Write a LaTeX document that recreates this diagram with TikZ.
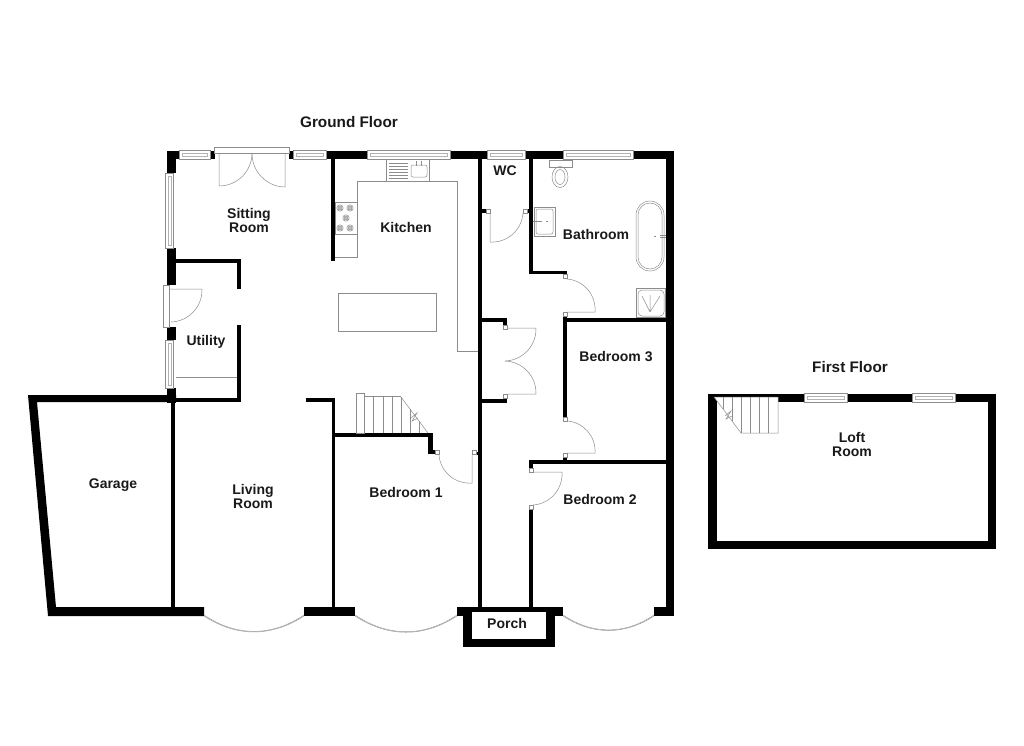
\documentclass[tikz,border=0pt]{standalone}
\usepackage{fontspec}
\setmainfont{Liberation Sans}

\begin{document}
\begin{tikzpicture}[x=1pt,y=-1pt,line cap=butt,line join=miter]
\tikzset{
    wall/.style=    {fill=black},
    fixture/.style= {draw=black!45,line width=0.5pt},
    glazing/.style= {draw=black!45,line width=0.5pt,fill=white},
    bayline/.style= {draw=black!40,line width=0.5pt},
    room/.style=    {font=\bfseries\fontsize{14}{14}\selectfont,align=center,text=black!90},
    floorname/.style= {font=\bfseries\fontsize{15.3}{16}\selectfont,text=black!90}
}
\useasboundingbox (0,0) rectangle (1024,745);

%% Ground floor, outer walls
\fill [wall] (167,151) rectangle (179,159);
\fill [wall] (167,151) rectangle (176,173);
\fill [wall] (210,151) rectangle (215,159);
\fill [wall] (289,151) rectangle (293,159);
\fill [wall] (326,151) rectangle (367,159);
\fill [wall] (450,151) rectangle (487,159);
\fill [wall] (525,151) rectangle (563,159);
\fill [wall] (633,151) rectangle (674,159);
\fill [wall] (666,151) rectangle (674,616);
\fill [wall] (167,248) rectangle (176,285);
\fill [wall] (167,327) rectangle (176,340);
\fill [wall] (167,388) rectangle (176,403);
\fill [wall] (28,395) -- (176,395) -- (176,402) -- (37,402) -- (56,607) -- (204,607) -- (204,616) -- (48,616) -- cycle;
\fill [wall] (304,607) rectangle (355,616);
\fill [wall] (654,607) rectangle (674,616);

%% Porch
\fill [wall] (457,607) rectangle (563,612);
\fill [wall] (457,607) rectangle (472,616);
\fill [wall] (546,607) rectangle (563,616);
\fill [wall] (463,607) rectangle (472,647);
\fill [wall] (546,607) rectangle (555,647);
\fill [wall] (463,639) rectangle (555,647);

%% Inner walls
\fill [wall] (171,402) rectangle (175,607);
\fill [wall] (176,259) rectangle (241,263);
\fill [wall] (237,259) rectangle (241,289);
\fill [wall] (237,325) rectangle (241,402);
\fill [wall] (176,398) rectangle (241,402);
\fill [wall] (331,159) rectangle (335,261);
\fill [wall] (306,398) rectangle (335,402);
\fill [wall] (332,398) rectangle (335,607);
\fill [wall] (335,433) rectangle (433,437);
\fill [wall] (428,433) rectangle (433,454);
\fill [wall] (428,450) rectangle (435,454);
\fill [wall] (478,151) rectangle (482,607);
\fill [wall] (476,452) rectangle (478,455);
\fill [wall] (482,209) rectangle (486,213);
\fill [wall] (527,209) rectangle (529,213);
\fill [wall] (529,159) rectangle (533,274);
\fill [wall] (529,271) rectangle (567,274);
\fill [wall] (563,317) rectangle (567,417);
\fill [wall] (563,318) rectangle (666,322);
\fill [wall] (482,318) rectangle (507,322);
\fill [wall] (503,318) rectangle (507,325);
\fill [wall] (482,399) rectangle (507,403);
\fill [wall] (529,460) rectangle (666,464);
\fill [wall] (529,460) rectangle (533,468);
\fill [wall] (563,457) rectangle (567,460);
\fill [wall] (529,509) rectangle (533,607);

%% Loft walls
\fill [wall] (708,394) rectangle (996,402);
\fill [wall] (708,394) rectangle (717,549);
\fill [wall] (708,541) rectangle (996,549);
\fill [wall] (988,394) rectangle (996,549);

%% Windows along the top
\foreach \xa/\xb in {179/210,293/326,367/450,487/525,563/633}{
    \draw [glazing] (\xa,150) rectangle (\xb,159);
    \draw [glazing,draw=black!30] (\xa+3,153) rectangle (\xb-3,156);
}
\foreach \xa/\xb in {804/847,912/955}{
    \draw [glazing] (\xa,393) rectangle (\xb,402);
    \draw [glazing,draw=black!30] (\xa+3,396) rectangle (\xb-3,399);
}
%% Windows on the left side
\foreach \ya/\yb in {173/248,340/388}{
    \draw [glazing] (165,\ya) rectangle (173,\yb);
    \draw [glazing,draw=black!30] (168,\ya+3) rectangle (171,\yb-3);
}

%% Bay windows
\foreach \xa/\xb in {204/304,355/457,563/654}{
    \draw [bayline] (\xa,615) to[bend right=34] (\xb,615);
    \draw [bayline] (\xa,616) to[bend right=33] (\xb,616);
}

%% Doors
\draw [glazing] (214,147) rectangle (289,153);
\draw [fixture] (219,153) -- (219,186) to[bend right=45] (252,153);
\draw [fixture] (285,153) -- (285,187) to[bend left=45] (252,153);
\draw [glazing] (163,285) rectangle (169,327);
\draw [fixture] (169,289) -- (202,289) to[bend left=45] (171,322);
\draw [fixture] (490,213) -- (490,242) to[bend right=45] (523,213);
\draw [fixture] (567,312) -- (595,312) to[bend right=45] (567,279);
\draw [fixture] (507,328) -- (536,328) to[bend left=45] (505,361);
\draw [fixture] (505,361) to[bend left=45] (536,394) -- (507,394);
\draw [fixture] (567,453) -- (595,453) to[bend right=45] (567,421);
\draw [fixture] (533,472) -- (562,472) to[bend left=45] (533,505);
\draw [fixture] (472,455) -- (472,483) to[bend left=45] (439,455);
\foreach \xa/\ya in {488/211,525/211,565/276,565/314,505/327,505/396,565/419,565/455,531/470,531/507,437/452,474/452}{
    \draw [glazing] (\xa-2,\ya-2) rectangle (\xa+2,\ya+2);
}

%% Kitchen
\draw [fixture] (335,257) -- (357,257) -- (357,181) -- (457,181) -- (457,351) -- (478,351);
\draw [fixture] (386,159) rectangle (429,181);
\draw [fixture] (335,202) rectangle (357,234);
\draw [fixture] (338,293) rectangle (436,331);
\draw [fixture,rounded corners=2pt] (411,165) rectangle (427,177);
\draw [fixture] (416,161) -- (416,166) (421,161) -- (421,166);
\foreach \ya in {163,166,169,172,175,178}{
    \draw [fixture] (389,\ya) -- (408,\ya);
}
\foreach \xa/\ya in {340/208,350/208,346/218,340/228,350/228}{
    \draw [fixture,fill=black!25] (\xa,\ya) circle (2);
    \draw [fixture] (\xa,\ya) circle (3.2);
}

%% Bathroom
\draw [fixture] (549,160) rectangle (572,167);
\draw [fixture] (560,177) ellipse (8 and 10.5);
\draw [fixture] (560,177) ellipse (5 and 7.5);
\draw [fixture] (534,207) rectangle (555,236);
\draw [fixture,rounded corners=2pt] (536,209) rectangle (553,234);
\draw [fixture] (533,221) -- (542,221) (546,221) -- (548,221);
\draw [fixture,rounded corners=14pt] (636,201) rectangle (664,271);
\draw [fixture,rounded corners=12pt] (638,203) rectangle (662,269);
\draw [fixture] (654,236) -- (656,236);
\draw [fixture] (660,235) -- (666,235) (660,237) -- (666,237);
\draw [fixture] (636,288) rectangle (665,317);
\draw [fixture,rounded corners=4pt] (638,290) rectangle (664,316);
\draw [fixture] (650,312) -- (650,295) (650,312) -- (642,296) (650,312) -- (660,296);

%% Utility worktop
\draw [fixture] (176,377) -- (237,377);

%% Stairs, ground floor
\draw [fixture] (356,393) rectangle (364,433);
\draw [fixture,line width=1pt] (364,396.5) -- (401,396.5);
\foreach \xa in {373,383,392,401}{
    \draw [fixture] (\xa,397) -- (\xa,433);
}
\draw [fixture] (410,409) -- (410,433);
\draw [fixture] (419,421) -- (419,433);
\draw [fixture] (401,397) -- (428,433);
\draw [fixture] (411,418) -- (417,413) -- (412,421) -- (418,418);

%% Stairs, first floor
\draw [glazing] (714,397) -- (778,397) -- (778,433) -- (741,433) -- cycle;
\foreach \xa/\ya in {723/409,732/421}{
    \draw [fixture] (\xa,397) -- (\xa,\ya);
}
\foreach \xa in {741,750,759,768}{
    \draw [fixture] (\xa,397) -- (\xa,433);
}
\draw [fixture] (725,416) -- (731,411) -- (726,419) -- (732,416);

%% Labels
\node [floorname] (groundfloor) at (349,122) {Ground Floor};
\node [floorname] (firstfloor) at (850,367) {First Floor};
\node [room] (sitting) at (249,220) {Sitting\\Room};
\node [room] (kitchen) at (406,227) {Kitchen};
\node [room] (wc) at (505,171) {WC};
\node [room] (bathroom) at (596,234) {Bathroom};
\node [room] (utility) at (206,342) {Utility};
\node [room] (bedthree) at (616,356) {Bedroom 3};
\node [room] (bedtwo) at (600,499) {Bedroom 2};
\node [room] (bedone) at (406,492) {Bedroom 1};
\node [room] (garage) at (113,485) {Garage};
\node [room] (living) at (253,496) {Living\\Room};
\node [room] (porch) at (507,623) {Porch};
\node [room] (loft) at (852,444) {Loft\\Room};

\end{tikzpicture}
\end{document}
